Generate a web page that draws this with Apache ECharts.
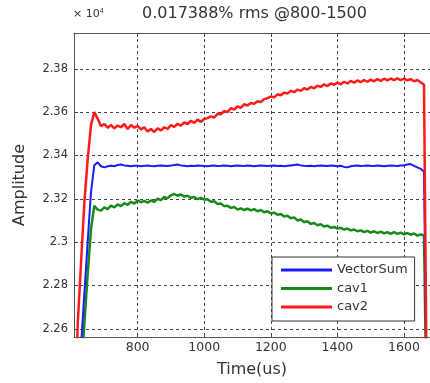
<!DOCTYPE html>
<html><head><meta charset="utf-8">
<script src="https://cdn.jsdelivr.net/npm/echarts@6/dist/echarts.min.js"></script>
<style>html,body{margin:0;padding:0;background:#fff}#c{width:430px;height:383px}</style>
</head><body><div id="c"></div>
<script>
const titleText = '0.017388% rms @800-1500';
const xTicks = [800, 1000, 1200, 1400, 1600];
const yTicks = [2.26, 2.28, 2.3, 2.32, 2.34, 2.36, 2.38];
const time = [610,620,630,640,650,660,670,680,690,700,710,720,730,740,750,760,770,780,790,800,
810,820,830,840,850,860,870,880,890,900,910,920,930,940,950,960,970,980,990,1000,
1010,1020,1030,1040,1050,1060,1070,1080,1090,1100,1110,1120,1130,1140,1150,1160,1170,1180,1190,1200,
1210,1220,1230,1240,1250,1260,1270,1280,1290,1300,1310,1320,1330,1340,1350,1360,1370,1380,1390,1400,
1410,1420,1430,1440,1450,1460,1470,1480,1490,1500,1510,1520,1530,1540,1550,1560,1570,1580,1590,1600,
1610,1620,1630,1640,1650,1660,1670,1680];
const vectorSum = [2.20,2.20,2.252,2.276,2.300,2.323,2.3355,2.3368,2.3350,2.3345,2.3350,2.3352,2.3350,2.3356,2.3358,2.3354,2.3352,2.3350,2.3352,2.3352,
2.3350,2.3352,2.3353,2.3351,2.3350,2.3352,2.3353,2.3352,2.3351,2.3353,2.3356,2.3358,2.3354,2.3352,2.3350,2.3352,2.3351,2.3353,2.3352,2.3351,
2.3350,2.3352,2.3353,2.3351,2.3352,2.3354,2.3352,2.3350,2.3352,2.3353,2.3352,2.3351,2.3353,2.3352,2.3350,2.3352,2.3353,2.3352,2.3351,2.3352,
2.3353,2.3351,2.3352,2.3350,2.3352,2.3354,2.3356,2.3358,2.3354,2.3352,2.3351,2.3352,2.3350,2.3352,2.3353,2.3352,2.3351,2.3353,2.3352,2.3350,
2.3352,2.3347,2.3345,2.3350,2.3352,2.3353,2.3351,2.3352,2.3354,2.3352,2.3351,2.3353,2.3352,2.3350,2.3352,2.3353,2.3352,2.3351,2.3353,2.3354,
2.3358,2.3360,2.3352,2.3345,2.3338,2.3325,2.20,2.20];
const cav1 = [2.20,2.20,2.240,2.262,2.285,2.306,2.3168,2.3150,2.3145,2.3160,2.3152,2.3168,2.3160,2.3174,2.3166,2.3180,2.3172,2.3186,2.3178,2.3192,
2.3184,2.3190,2.3182,2.3192,2.3186,2.3200,2.3194,2.3208,2.3202,2.3216,2.3222,2.3214,2.3220,2.3210,2.3214,2.3204,2.3208,2.3198,2.3204,2.3196,
2.3198,2.3186,2.3188,2.3176,2.3178,2.3166,2.3168,2.3158,2.3162,2.3150,2.3156,2.3148,2.3154,2.3146,2.3152,2.3142,2.3148,2.3138,2.3142,2.3132,
2.3136,2.3126,2.3130,2.3118,2.3122,2.3110,2.3114,2.3100,2.3104,2.3092,2.3096,2.3084,2.3088,2.3078,2.3082,2.3072,2.3076,2.3066,2.3070,2.3062,
2.3066,2.3058,2.3062,2.3054,2.3058,2.3050,2.3054,2.3046,2.3052,2.3044,2.3050,2.3042,2.3048,2.3040,2.3046,2.3038,2.3046,2.3038,2.3044,2.3036,
2.3042,2.3034,2.3040,2.3030,2.3036,2.3030,2.20,2.20];
const cav2 = [2.20,2.262,2.290,2.318,2.338,2.354,2.3600,2.3570,2.3535,2.3545,2.3528,2.3540,2.3525,2.3538,2.3530,2.3545,2.3522,2.3540,2.3528,2.3536,
2.3520,2.3530,2.3510,2.3522,2.3508,2.3525,2.3515,2.3530,2.3522,2.3540,2.3532,2.3546,2.3538,2.3552,2.3545,2.3560,2.3550,2.3565,2.3555,2.3568,
2.3572,2.3580,2.3575,2.3592,2.3590,2.3605,2.3600,2.3618,2.3612,2.3626,2.3620,2.3636,2.3630,2.3642,2.3638,2.3650,2.3646,2.3660,2.3664,2.3672,
2.3668,2.3682,2.3678,2.3690,2.3686,2.3698,2.3692,2.3704,2.3698,2.3710,2.3704,2.3716,2.3710,2.3722,2.3716,2.3728,2.3720,2.3732,2.3726,2.3736,
2.3728,2.3740,2.3732,2.3744,2.3736,2.3746,2.3738,2.3748,2.3740,2.3750,2.3742,2.3752,2.3744,2.3754,2.3746,2.3755,2.3748,2.3756,2.3747,2.3754,
2.3746,2.3752,2.3742,2.3748,2.3738,2.3726,2.20,2.20];

const FONT = 'DejaVu Sans';
const pair = arr => time.map((t, i) => [t, arr[i]]);
const chart = echarts.init(document.getElementById('c'), null, {renderer: 'canvas'});
const axisCommonX = {
  type: 'value', min: 609, max: 1678,
  axisLine: {show: true, onZero: false, lineStyle: {color: '#555', width: 1}},
  axisTick: {show: true, inside: true, length: 4, customValues: xTicks, lineStyle: {color: '#444'}},
  splitLine: {show: false}
};
chart.setOption({
  animation: false,
  backgroundColor: '#fff',
  grid: {left: 74, right: 0, top: 33, bottom: 44, show: false},
  graphic: [
    {type: 'text', left: 256 - 114, top: 6, style: {text: titleText, font: '16px "DejaVu Sans"', fill: '#333'}},
    {type: 'text', left: 73, top: 8, style: {text: '× 10{s|4}', rich: {s: {fontSize: 7, verticalAlign: 'top', padding: [0,0,6,0]}}, font: '11px "DejaVu Sans"', fill: '#333'}}
  ],
  legend: {
    orient: 'vertical', left: 272, top: 257,
    padding: [5.5, 7, 6.5, 9], itemWidth: 51, itemHeight: 3, itemGap: 3.5,
    icon: 'rect', borderColor: '#333', borderWidth: 1, backgroundColor: '#fff',
    textStyle: {fontFamily: FONT, fontSize: 13, lineHeight: 15, color: '#333'},
    data: ['VectorSum', 'cav1', 'cav2']
  },
  xAxis: [
    Object.assign({}, axisCommonX, {
      position: 'bottom',
      name: 'Time(us)', nameLocation: 'middle', nameGap: 25,
      nameTextStyle: {fontFamily: FONT, fontSize: 16, color: '#333'},
      axisLabel: {show: true, customValues: xTicks, margin: 4, fontFamily: FONT, fontSize: 12.5, color: '#333',
        formatter: v => String(Math.round(+v))},
      splitLine: {show: true, lineStyle: {color: '#444', type: [3, 3], width: 1}}
    }),
    Object.assign({}, axisCommonX, {position: 'top', axisLabel: {show: false}})
  ],
  yAxis: {
    type: 'value', min: 2.2562, max: 2.3965,
    name: 'Amplitude', nameLocation: 'middle', nameGap: 46,
    nameTextStyle: {fontFamily: FONT, fontSize: 16, color: '#333'},
    axisLine: {show: true, lineStyle: {color: '#555', width: 1}},
    axisTick: {show: true, inside: true, length: 4, customValues: yTicks, lineStyle: {color: '#444'}},
    axisLabel: {show: true, customValues: yTicks, margin: 6, fontFamily: FONT, fontSize: 11.5, color: '#333',
      formatter: v => String(+(+v).toFixed(2))},
    splitLine: {show: true, lineStyle: {color: '#444', type: [3, 3], width: 1}}
  },
  series: [
    {name: 'VectorSum', type: 'line', data: pair(vectorSum), showSymbol: false, symbol: 'none', clip: true,
     lineStyle: {color: '#1a1aff', width: 2}, itemStyle: {color: '#1a1aff'}, z: 3},
    {name: 'cav1', type: 'line', data: pair(cav1), showSymbol: false, symbol: 'none', clip: true,
     lineStyle: {color: '#168a16', width: 2.5}, itemStyle: {color: '#168a16'}, z: 2},
    {name: 'cav2', type: 'line', data: pair(cav2), showSymbol: false, symbol: 'none', clip: true,
     lineStyle: {color: '#ff1a1a', width: 2.5}, itemStyle: {color: '#ff1a1a'}, z: 4}
  ]
});
</script></body></html>
